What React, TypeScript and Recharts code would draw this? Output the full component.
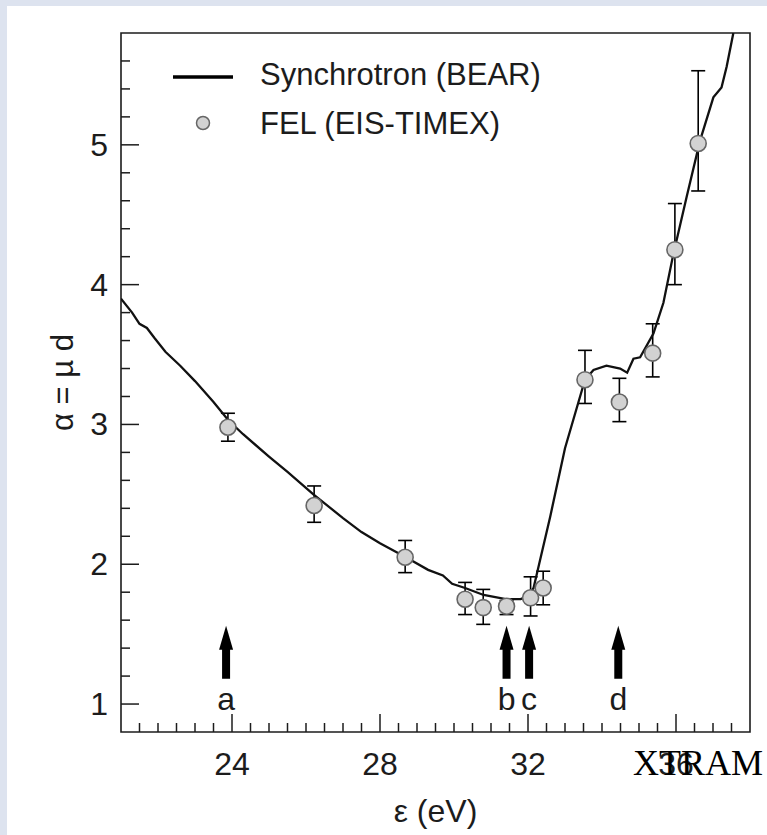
import React from 'react';
import {
  ComposedChart,
  Line,
  Scatter,
  XAxis,
  YAxis,
  ErrorBar,
  ReferenceArea,
  ReferenceDot,
  Legend,
} from 'recharts';

// Synchrotron (BEAR) absorption curve
const synE = [21.0, 21.3, 21.5, 21.7, 21.9, 22.2, 22.6, 23.0, 23.5, 23.9, 24.3, 25.0, 25.5, 26.2, 27.0, 27.5, 28.0, 28.7, 29.3, 29.7, 29.95, 30.3, 30.8, 31.4, 31.8, 32.0, 32.15, 32.3, 32.6, 33.0, 33.54, 33.77, 34.12, 34.49, 34.68, 34.85, 35.03, 35.39, 35.66, 35.93, 36.29, 36.65, 37.01, 37.23, 37.37, 37.55];
const synAlpha = [3.90, 3.80, 3.72, 3.69, 3.62, 3.52, 3.42, 3.31, 3.16, 3.03, 2.93, 2.77, 2.66, 2.50, 2.33, 2.23, 2.15, 2.05, 1.96, 1.92, 1.86, 1.83, 1.78, 1.75, 1.75, 1.77, 1.83, 2.00, 2.34, 2.83, 3.32, 3.39, 3.42, 3.40, 3.37, 3.47, 3.48, 3.65, 3.87, 4.22, 4.63, 5.03, 5.34, 5.41, 5.56, 5.80];

// FEL (EIS-TIMEX) points with asymmetric error bars
const felE = [23.89, 26.22, 28.68, 30.30, 30.79, 31.42, 32.07, 32.41, 33.54, 34.47, 35.37, 35.97, 36.60];
const felAlpha = [2.98, 2.42, 2.05, 1.75, 1.69, 1.70, 1.76, 1.83, 3.32, 3.16, 3.51, 4.25, 5.01];
const felErrLow = [0.10, 0.12, 0.11, 0.11, 0.12, 0.06, 0.13, 0.12, 0.17, 0.14, 0.17, 0.25, 0.34];
const felErrHigh = [0.10, 0.14, 0.12, 0.12, 0.13, 0.04, 0.15, 0.12, 0.21, 0.17, 0.21, 0.33, 0.52];

// Arrows marking energies a-d
const arrowE = [23.84, 31.42, 32.03, 34.44];
const arrowLabels = ['a', 'b', 'c', 'd'];
const arrowTipAlpha = 1.56;

// Axis ticks
const xTicks = [21.5, 22, 22.5, 23, 23.5, 24, 24.5, 25, 25.5, 26, 26.5, 27, 27.5, 28, 28.5, 29, 29.5, 30, 30.5, 31, 31.5, 32, 32.5, 33, 33.5, 34, 34.5, 35, 35.5, 36, 36.5, 37, 37.5];
const xMajor = [24, 28, 32, 36];
const yTicks = [1, 1.2, 1.4, 1.6, 1.8, 2, 2.2, 2.4, 2.6, 2.8, 3, 3.2, 3.4, 3.6, 3.8, 4, 4.2, 4.4, 4.6, 4.8, 5, 5.2, 5.4, 5.6];
const yMajor = [1, 2, 3, 4, 5];

const synData = synE.map((E, i) => ({ E, a: synAlpha[i] }));
const felData = felE.map((E, i) => ({ E, a: felAlpha[i], err: [felErrLow[i], felErrHigh[i]] }));

const FONT = '"Liberation Sans", Arial, sans-serif';
const INK = '#1c1c1c';
const FS = 32;

const XTick = (props: any) => {
  const { x, y, payload } = props;
  const v = payload.value;
  const major = xMajor.includes(v);
  return (
    <g>
      <line x1={x} x2={x} y1={y} y2={y - (major ? 18 : 9)} stroke={INK} strokeWidth={1.5} />
      {major && (
        <text x={x} y={y + 43} textAnchor="middle" fontSize={FS} fill={INK} fontFamily={FONT}>
          {v}
        </text>
      )}
    </g>
  );
};

const YTick = (props: any) => {
  const { x, y, payload } = props;
  const v = payload.value;
  const major = yMajor.includes(v);
  return (
    <g>
      <line x1={x} x2={x + (major ? 18 : 9)} y1={y} y2={y} stroke={INK} strokeWidth={1.5} />
      {major && (
        <text x={x - 13} y={y + 11} textAnchor="end" fontSize={FS} fill={INK} fontFamily={FONT}>
          {v}
        </text>
      )}
    </g>
  );
};

const FelDot = (props: any) => (
  <circle cx={props.cx} cy={props.cy} r={8} fill="#d2d2d2" stroke="#666" strokeWidth={1.6} />
);

const makeArrow = (label: string) => (props: any) => {
  const { cx, cy } = props;
  return (
    <g>
      <polygon points={`${cx},${cy} ${cx - 7},${cy + 24} ${cx + 7},${cy + 24}`} fill="#000" />
      <rect x={cx - 4} y={cy + 20} width={8} height={33} fill="#000" />
      <text x={cx} y={cy + 84} textAnchor="middle" fontSize={FS} fill={INK} fontFamily={FONT}>
        {label}
      </text>
    </g>
  );
};

const LegendContent = () => (
  <svg width={580} height={150} style={{ display: 'block' }}>
    <line x1={173} x2={233} y1={77} y2={77} stroke="#000" strokeWidth={3.5} />
    <text x={260} y={85} fontSize={31} fill={INK} fontFamily={FONT}>Synchrotron (BEAR)</text>
    <circle cx={203} cy={123} r={6.5} fill="#d2d2d2" stroke="#666" strokeWidth={1.5} />
    <text x={260} y={134} fontSize={31} fill={INK} fontFamily={FONT}>FEL (EIS-TIMEX)</text>
  </svg>
);

const XLabel = (props: any) => {
  const { viewBox } = props;
  const cx = viewBox.x + viewBox.width / 2;
  return (
    <text x={cx} y={viewBox.y + 90} textAnchor="middle" fontSize={FS} fill={INK} fontFamily={FONT}>
      ε (eV)
    </text>
  );
};

const YLabel = (props: any) => {
  const { viewBox } = props;
  const cy = viewBox.y + viewBox.height / 2;
  const x = 73;
  return (
    <text x={x} y={cy} textAnchor="middle" fontSize={31} fill={INK} fontFamily={FONT} transform={`rotate(-90, ${x}, ${cy})`}>
      α = µ d
    </text>
  );
};

export default function App() {
  return (
    <div style={{ position: 'absolute', left: 0, top: 0, width: 767, height: 835, background: '#dde3ef', overflow: 'hidden' }}>
      <div style={{ position: 'absolute', left: 7, top: 6, width: 760, height: 829, background: '#ffffff' }} />
      <div style={{ position: 'absolute', left: 0, top: 0 }}>
        <ComposedChart width={767} height={835} margin={{ top: 33, right: 17, bottom: 43, left: 61 }}>
          <XAxis
            dataKey="E"
            type="number"
            domain={[21, 38]}
            ticks={xTicks}
            interval={0}
            allowDataOverflow
            axisLine={false}
            tickLine={false}
            tickSize={0}
            tickMargin={0}
            height={60}
            tick={<XTick />}
            label={<XLabel />}
          />
          <YAxis
            type="number"
            domain={[0.8, 5.8]}
            ticks={yTicks}
            interval={0}
            allowDataOverflow
            axisLine={false}
            tickLine={false}
            tickSize={0}
            tickMargin={0}
            width={60}
            tick={<YTick />}
            label={<YLabel />}
          />
          <ReferenceArea x1={21} x2={38} y1={0.8} y2={5.8} fill="none" stroke={INK} strokeWidth={1.6} ifOverflow="visible" />
          <Scatter data={felData} dataKey="a" shape={<FelDot />} isAnimationActive={false} name="FEL (EIS-TIMEX)">
            <ErrorBar dataKey="err" direction="y" width={7} stroke="#000" strokeWidth={1.6} />
          </Scatter>
          <Line data={synData} dataKey="a" type="linear" stroke="#111" strokeWidth={2.3} dot={false} activeDot={false} isAnimationActive={false} name="Synchrotron (BEAR)" />
          {arrowE.map((E, i) => (
            <ReferenceDot key={arrowLabels[i]} x={E} y={arrowTipAlpha} r={0} shape={makeArrow(arrowLabels[i])} ifOverflow="visible" />
          ))}
          <Legend
            layout="horizontal"
            verticalAlign="middle"
            align="center"
            content={<LegendContent />}
            wrapperStyle={{ left: 0, top: 0, width: 580, height: 150 }}
          />
        </ComposedChart>
      </div>
      <svg style={{ position: 'absolute', left: 0, top: 0 }} width={767} height={835} pointerEvents="none">
        <text x={763} y={775} textAnchor="end" fontSize={36} fill="#000" fontFamily='"Liberation Serif", "Times New Roman", serif'>
          XTRAM
        </text>
      </svg>
    </div>
  );
}
